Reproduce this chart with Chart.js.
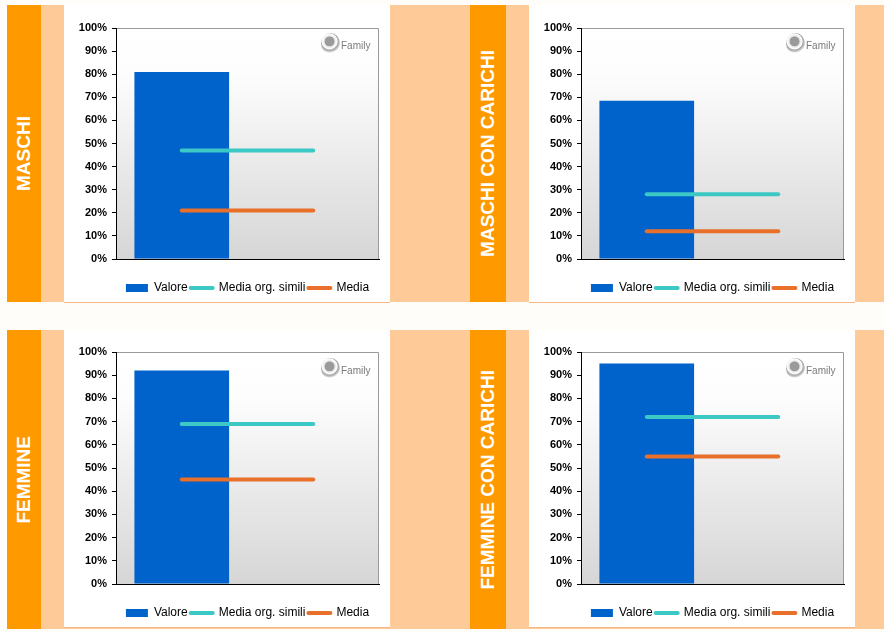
<!DOCTYPE html>
<html lang="it">
<head>
    <meta charset="UTF-8">
    <title>Valore / Media org. simili / Media</title>
    <script src="https://cdn.jsdelivr.net/npm/chart.js"></script>
    <style>
        body {
            margin: 0;
            background: #fffdfa;
            font-family: 'Liberation Sans', Arial, sans-serif;
        }
        .page {
            position: relative;
            width: 884px;
            height: 633px;
            overflow: hidden;
        }
        .row {
            position: absolute;
            left: 7px;
            width: 877px;
            background: #fecb98;
        }
        .strip {
            position: absolute;
            background: #ff9900;
            display: flex;
            align-items: center;
            justify-content: center;
        }
        .strip span {
            writing-mode: vertical-rl;
            transform: rotate(180deg);
            color: #fff;
            font-weight: bold;
            font-size: 19px;
            white-space: nowrap;
        }
        .box {
            position: absolute;
            width: 326px;
            height: 297px;
            background: #fff;
            box-shadow: 0 1px 0 #f4b784;
        }
        .box canvas {
            position: absolute;
            left: 0;
            top: 0;
        }
        .logo {
            position: absolute;
            left: 257px;
            top: 28px;
            display: flex;
            align-items: center;
            z-index: 2;
        }
        .globe {
            width: 19px;
            height: 21px;
            border-radius: 50%;
            background: radial-gradient(circle at 45% 40%, #9a9a9a 0 28%, #e6e6e6 32%, #ffffff 46%, #a5a5a5 52%, #c8c8c8 62%, rgba(255,255,255,0) 70%);
        }
        .fam {
            font-size: 10px;
            color: #7a7a7a;
            margin-left: 1px;
            margin-top: 3px;
        }
    </style>
</head>
<body>
<div class="page" id="page">
    <div class="row" style="top:5px;height:297px;"></div>
    <div class="row" style="top:330px;height:299px;"></div>
</div>

<script>
    // values (percent)
    const panelTitles = ['MASCHI', 'MASCHI CON CARICHI', 'FEMMINE', 'FEMMINE CON CARICHI'];
    const categories = ['', ''];
    const valore = [81, 68.5, 92, 95];
    const mediaOrgSimili = [47, 28, 69, 72];
    const media = [21, 12, 45, 55];
    const seriesNames = ['Valore', 'Media org. simili', 'Media'];
    const yMax = 100;
    const yStep = 10;

    // page placement of each panel: strip x, box x, row top
    const panelPos = [
        { strip: 7, stripW: 34, box: 64, top: 5, h: 297, padTop: 23 },
        { strip: 470, stripW: 36, box: 529, top: 5, h: 297, padTop: 23 },
        { strip: 7, stripW: 34, box: 64, top: 330, h: 299, padTop: 22 },
        { strip: 470, stripW: 36, box: 529, top: 330, h: 299, padTop: 22 }
    ];

    const font = "'Liberation Sans', Arial, sans-serif";

    // gradient plot background + grey top/right frame
    const plotFrame = {
        id: 'plotFrame',
        beforeDraw(chart) {
            const { ctx, chartArea: a } = chart;
            const g = ctx.createLinearGradient(0, a.top, 0, a.bottom);
            g.addColorStop(0, '#ffffff');
            g.addColorStop(0.2, '#fdfdfd');
            g.addColorStop(1, '#d6d6d6');
            ctx.save();
            ctx.fillStyle = g;
            ctx.fillRect(a.left, a.top, a.right - a.left, a.bottom - a.top);
            ctx.strokeStyle = '#9a9a9a';
            ctx.lineWidth = 1;
            ctx.beginPath();
            ctx.moveTo(a.left, a.top + 0.5);
            ctx.lineTo(a.right - 0.5, a.top + 0.5);
            ctx.lineTo(a.right - 0.5, a.bottom);
            ctx.stroke();
            ctx.restore();
        }
    };

    const page = document.getElementById('page');

    panelPos.forEach((p, i) => {
        const strip = document.createElement('div');
        strip.className = 'strip';
        strip.style.left = p.strip + 'px';
        strip.style.width = p.stripW + 'px';
        strip.style.top = p.top + 'px';
        strip.style.height = p.h + 'px';
        strip.innerHTML = '<span>' + panelTitles[i] + '</span>';
        page.appendChild(strip);

        const box = document.createElement('div');
        box.className = 'box';
        box.style.left = p.box + 'px';
        box.style.top = p.top + 'px';
        box.innerHTML = '<canvas width="326" height="299"></canvas>' +
            '<div class="logo"><span class="globe"></span><span class="fam">Family</span></div>';
        page.appendChild(box);

        const ctx = box.querySelector('canvas').getContext('2d');
        new Chart(ctx, {
            data: {
                labels: categories,
                datasets: [
                    {
                        type: 'bar',
                        label: seriesNames[0],
                        data: [valore[i], null],
                        backgroundColor: '#0063cc',
                        barPercentage: 0.72,
                        categoryPercentage: 1,
                        order: 3
                    },
                    {
                        type: 'line',
                        label: seriesNames[1],
                        data: [mediaOrgSimili[i], mediaOrgSimili[i]],
                        borderColor: '#3cc8c4',
                        borderWidth: 4,
                        borderCapStyle: 'round',
                        pointRadius: 0,
                        pointHoverRadius: 0,
                        order: 2
                    },
                    {
                        type: 'line',
                        label: seriesNames[2],
                        data: [media[i], media[i]],
                        borderColor: '#e8702a',
                        borderWidth: 4,
                        borderCapStyle: 'round',
                        pointRadius: 0,
                        pointHoverRadius: 0,
                        order: 1
                    }
                ]
            },
            options: {
                responsive: false,
                animation: false,
                events: [],
                layout: { padding: { top: p.padTop, right: 11, left: 0, bottom: 0 } },
                scales: {
                    x: {
                        type: 'category',
                        offset: true,
                        grid: { display: false, drawTicks: false },
                        ticks: { display: false },
                        border: { display: true, color: '#000', width: 1, z: 1 },
                        afterFit: s => { s.height = 20; }
                    },
                    y: {
                        min: 0,
                        max: yMax,
                        ticks: {
                            stepSize: yStep,
                            callback: v => v + '%',
                            color: '#000',
                            padding: 5,
                            font: { family: font, size: 11, weight: 'bold' }
                        },
                        grid: { drawOnChartArea: false, drawTicks: true, tickLength: 4, color: '#000' },
                        border: { display: true, color: '#000', width: 1, z: 1 },
                        afterFit: s => { s.width = 52; }
                    }
                },
                plugins: {
                    tooltip: { enabled: false },
                    legend: {
                        position: 'bottom',
                        fullSize: false,
                        labels: {
                            usePointStyle: true,
                            pointStyleWidth: 22,
                            boxHeight: 8,
                            padding: 3,
                            color: '#000',
                            font: { family: font, size: 12 },
                            generateLabels: chart => chart.data.datasets.map((ds, k) => ({
                                text: ds.label,
                                fillStyle: ds.type === 'line' ? ds.borderColor : ds.backgroundColor,
                                strokeStyle: ds.type === 'line' ? ds.borderColor : ds.backgroundColor,
                                lineWidth: ds.type === 'line' ? 4 : 0,
                                lineCap: 'round',
                                pointStyle: ds.type === 'line' ? 'line' : 'rect',
                                fontColor: '#000',
                                hidden: false,
                                datasetIndex: k
                            }))
                        }
                    }
                }
            },
            plugins: [plotFrame]
        });
    });
</script>
</body>
</html>
